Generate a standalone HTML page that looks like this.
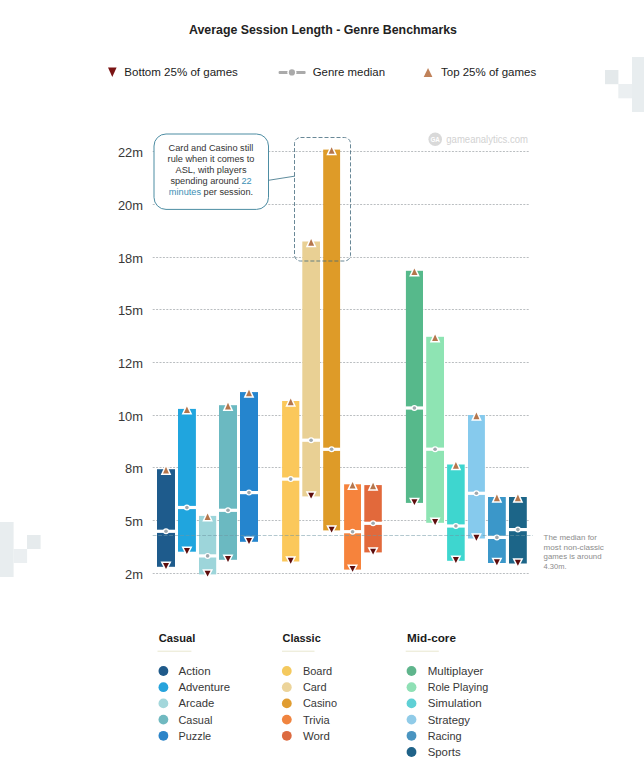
<!DOCTYPE html>
<html><head><meta charset="utf-8"><title>Average Session Length - Genre Benchmarks</title>
<style>
html,body{margin:0;padding:0;background:#fff;}
body{width:644px;height:775px;overflow:hidden;font-family:'Liberation Sans', Arial, sans-serif;}
svg{display:block;}
text{font-family:'Liberation Sans', Arial, sans-serif;}
</style></head><body>
<svg width="644" height="775" viewBox="0 0 644 775">
<rect width="644" height="775" fill="#ffffff"/>

<g fill="#e8edef">
<rect x="632" y="57" width="12" height="55"/>
<rect x="618.3" y="84" width="13.7" height="14.3" fill="#ebeff1"/>
<rect x="605" y="70" width="13.4" height="14.2" fill="#e4e9eb"/>
<rect x="0" y="522" width="13.6" height="55"/>
<rect x="13.6" y="549" width="13.5" height="14" fill="#ebeff1"/>
<rect x="27" y="535" width="13.6" height="14" fill="#e6ebed"/>
</g>
<text x="189" y="34.3" font-size="12.4" fill="#222" font-weight="bold" textLength="268" lengthAdjust="spacingAndGlyphs">Average Session Length - Genre Benchmarks</text>
<path d="M108 67.4 L116.6 67.4 L112.3 76.9 Z" fill="#7a1414"/>
<text x="124.3" y="76.2" font-size="11.6" fill="#1c1c1c" textLength="113.6" lengthAdjust="spacingAndGlyphs">Bottom 25% of games</text>
<g><rect x="278.6" y="70.9" width="27" height="3" rx="1" fill="#aaaaaa"/><circle cx="291.9" cy="72.4" r="4.6" fill="#fff"/><circle cx="291.9" cy="72.4" r="3.1" fill="#aaaaaa"/></g>
<text x="312.7" y="76.2" font-size="11.6" fill="#1c1c1c" textLength="72.3" lengthAdjust="spacingAndGlyphs">Genre median</text>
<path d="M423.7 76.9 L432.4 76.9 L428.05 67.9 Z" fill="#c0825a"/>
<text x="441" y="76.2" font-size="11.6" fill="#1c1c1c" textLength="95.2" lengthAdjust="spacingAndGlyphs">Top 25% of games</text>
<circle cx="435.2" cy="139.2" r="6.8" fill="#d9d9d9"/>
<text x="435.2" y="141.5" font-size="6.3" fill="#fff" text-anchor="middle" font-weight="bold">GA</text>
<text x="446.3" y="142.5" font-size="10" fill="#d2d2d2" textLength="81.7" lengthAdjust="spacingAndGlyphs">gameanalytics.com</text>
<line x1="152.7" x2="529.5" y1="151.5" y2="151.5" stroke="#959b9f" stroke-width="0.65" stroke-dasharray="2 1.4"/>
<text x="143" y="156.8" font-size="12.9" fill="#383838" text-anchor="end">22m</text>
<line x1="152.7" x2="529.5" y1="204.5" y2="204.5" stroke="#959b9f" stroke-width="0.65" stroke-dasharray="2 1.4"/>
<text x="143" y="209.8" font-size="12.9" fill="#383838" text-anchor="end">20m</text>
<line x1="152.7" x2="529.5" y1="257.5" y2="257.5" stroke="#959b9f" stroke-width="0.65" stroke-dasharray="2 1.4"/>
<text x="143" y="262.8" font-size="12.9" fill="#383838" text-anchor="end">18m</text>
<line x1="152.7" x2="529.5" y1="309.5" y2="309.5" stroke="#959b9f" stroke-width="0.65" stroke-dasharray="2 1.4"/>
<text x="143" y="314.8" font-size="12.9" fill="#383838" text-anchor="end">15m</text>
<line x1="152.7" x2="529.5" y1="362.5" y2="362.5" stroke="#959b9f" stroke-width="0.65" stroke-dasharray="2 1.4"/>
<text x="143" y="367.8" font-size="12.9" fill="#383838" text-anchor="end">12m</text>
<line x1="152.7" x2="529.5" y1="415.5" y2="415.5" stroke="#959b9f" stroke-width="0.65" stroke-dasharray="2 1.4"/>
<text x="143" y="420.8" font-size="12.9" fill="#383838" text-anchor="end">10m</text>
<line x1="152.7" x2="529.5" y1="467.5" y2="467.5" stroke="#959b9f" stroke-width="0.65" stroke-dasharray="2 1.4"/>
<text x="143" y="472.8" font-size="12.9" fill="#383838" text-anchor="end">8m</text>
<line x1="152.7" x2="529.5" y1="520.5" y2="520.5" stroke="#959b9f" stroke-width="0.65" stroke-dasharray="2 1.4"/>
<text x="143" y="525.8" font-size="12.9" fill="#383838" text-anchor="end">5m</text>
<line x1="152.7" x2="529.5" y1="573.5" y2="573.5" stroke="#959b9f" stroke-width="0.65" stroke-dasharray="2 1.4"/>
<text x="143" y="578.8" font-size="12.9" fill="#383838" text-anchor="end">2m</text>
<rect x="154" y="134" width="114.5" height="75.4" rx="12" ry="12" fill="#fff" stroke="#4d8da3" stroke-width="1"/>
<line x1="268.5" y1="180.3" x2="295" y2="176.1" stroke="#4d7f92" stroke-width="0.9"/>
<text x="211" y="151.20" font-size="9.2" fill="#333" text-anchor="middle">Card and Casino still</text>
<text x="211" y="162.05" font-size="9.2" fill="#333" text-anchor="middle">rule when it comes to</text>
<text x="211" y="172.90" font-size="9.2" fill="#333" text-anchor="middle">ASL, with players</text>
<text x="211" y="183.75" font-size="9.2" fill="#333" text-anchor="middle">spending around <tspan fill="#3d8fb5">22</tspan></text>
<text x="211" y="194.60" font-size="9.2" fill="#333" text-anchor="middle"><tspan fill="#3d8fb5">minutes</tspan> per session.</text>
<rect x="157.0" y="469.2" width="18.0" height="97.6" fill="#1e5b8c"/>
<rect x="178.0" y="408.9" width="17.9" height="142.8" fill="#20a5de"/>
<rect x="199.0" y="515.9" width="17.2" height="58.5" fill="#9dd5da"/>
<rect x="219.0" y="405.2" width="18.0" height="154.6" fill="#6bb9c1"/>
<rect x="240.0" y="392.1" width="18.0" height="149.7" fill="#2585ce"/>
<rect x="282.1" y="401.0" width="17.2" height="160.5" fill="#fbc85b"/>
<rect x="302.3" y="241.5" width="17.7" height="254.9" fill="#e9d094"/>
<rect x="323.2" y="149.6" width="16.9" height="380.8" fill="#de9b28"/>
<rect x="344.1" y="484.3" width="16.9" height="85.3" fill="#f6833c"/>
<rect x="364.3" y="485.1" width="17.5" height="67.3" fill="#e2693b"/>
<rect x="405.9" y="270.8" width="17.1" height="232.1" fill="#56b98b"/>
<rect x="426.2" y="336.8" width="17.8" height="186.0" fill="#8ee4b3"/>
<rect x="447.1" y="464.5" width="17.6" height="96.3" fill="#3ed6cf"/>
<rect x="468.0" y="415.0" width="16.9" height="123.5" fill="#86caed"/>
<rect x="488.0" y="497.0" width="17.8" height="66.0" fill="#3b97c9"/>
<rect x="509.0" y="497.0" width="17.8" height="66.5" fill="#1c6588"/>
<line x1="152.7" x2="532.8" y1="535.5" y2="535.5" stroke="#6f97a3" stroke-opacity="0.7" stroke-width="0.75" stroke-dasharray="3.8 1.7"/>
<rect x="294.5" y="137.5" width="56" height="123.5" rx="6" ry="6" fill="none" stroke="#426a7c" stroke-width="0.8" stroke-dasharray="4 2"/>
<rect x="156.4" y="529.7" width="19.2" height="3.2" fill="#fff"/>
<circle cx="166.0" cy="531.3" r="3.0" fill="#fff"/><circle cx="166.0" cy="531.3" r="1.8" fill="#9fa9ae"/>
<path d="M163.00 473.4 L169.00 473.4 L166.0 466.8 Z" fill="#b5764c" stroke="#fff" stroke-width="3" paint-order="stroke" stroke-linejoin="miter"/>
<path d="M163.00 563.1 L169.00 563.1 L166.0 569.0 Z" fill="#5e0d0d" stroke="#fff" stroke-width="3" paint-order="stroke" stroke-linejoin="miter"/>
<rect x="177.4" y="505.9" width="19.1" height="3.2" fill="#fff"/>
<circle cx="186.9" cy="507.5" r="3.0" fill="#fff"/><circle cx="186.9" cy="507.5" r="1.8" fill="#9fa9ae"/>
<path d="M183.95 413.1 L189.95 413.1 L186.9 406.5 Z" fill="#b5764c" stroke="#fff" stroke-width="3" paint-order="stroke" stroke-linejoin="miter"/>
<path d="M183.95 548.0 L189.95 548.0 L186.9 553.9 Z" fill="#5e0d0d" stroke="#fff" stroke-width="3" paint-order="stroke" stroke-linejoin="miter"/>
<rect x="198.4" y="554.3" width="18.4" height="3.2" fill="#fff"/>
<circle cx="207.6" cy="555.9" r="3.0" fill="#fff"/><circle cx="207.6" cy="555.9" r="1.8" fill="#9fa9ae"/>
<path d="M204.60 520.1 L210.60 520.1 L207.6 513.5 Z" fill="#b5764c" stroke="#fff" stroke-width="3" paint-order="stroke" stroke-linejoin="miter"/>
<path d="M204.60 570.7 L210.60 570.7 L207.6 576.6 Z" fill="#5e0d0d" stroke="#fff" stroke-width="3" paint-order="stroke" stroke-linejoin="miter"/>
<rect x="218.4" y="508.7" width="19.2" height="3.2" fill="#fff"/>
<circle cx="228.0" cy="510.3" r="3.0" fill="#fff"/><circle cx="228.0" cy="510.3" r="1.8" fill="#9fa9ae"/>
<path d="M225.00 409.4 L231.00 409.4 L228.0 402.8 Z" fill="#b5764c" stroke="#fff" stroke-width="3" paint-order="stroke" stroke-linejoin="miter"/>
<path d="M225.00 556.1 L231.00 556.1 L228.0 562.0 Z" fill="#5e0d0d" stroke="#fff" stroke-width="3" paint-order="stroke" stroke-linejoin="miter"/>
<rect x="239.4" y="491.0" width="19.2" height="3.2" fill="#fff"/>
<circle cx="249.0" cy="492.6" r="3.0" fill="#fff"/><circle cx="249.0" cy="492.6" r="1.8" fill="#9fa9ae"/>
<path d="M246.00 396.3 L252.00 396.3 L249.0 389.7 Z" fill="#b5764c" stroke="#fff" stroke-width="3" paint-order="stroke" stroke-linejoin="miter"/>
<path d="M246.00 538.1 L252.00 538.1 L249.0 544.0 Z" fill="#5e0d0d" stroke="#fff" stroke-width="3" paint-order="stroke" stroke-linejoin="miter"/>
<rect x="281.5" y="477.5" width="18.4" height="3.2" fill="#fff"/>
<circle cx="290.7" cy="479.1" r="3.0" fill="#fff"/><circle cx="290.7" cy="479.1" r="1.8" fill="#9fa9ae"/>
<path d="M287.70 405.2 L293.70 405.2 L290.7 398.6 Z" fill="#b5764c" stroke="#fff" stroke-width="3" paint-order="stroke" stroke-linejoin="miter"/>
<path d="M287.70 557.8 L293.70 557.8 L290.7 563.7 Z" fill="#5e0d0d" stroke="#fff" stroke-width="3" paint-order="stroke" stroke-linejoin="miter"/>
<rect x="301.7" y="438.6" width="18.9" height="3.2" fill="#fff"/>
<circle cx="311.1" cy="440.2" r="3.0" fill="#fff"/><circle cx="311.1" cy="440.2" r="1.8" fill="#9fa9ae"/>
<path d="M308.15 245.7 L314.15 245.7 L311.1 239.1 Z" fill="#b5764c" stroke="#fff" stroke-width="3" paint-order="stroke" stroke-linejoin="miter"/>
<path d="M308.15 492.7 L314.15 492.7 L311.1 498.6 Z" fill="#5e0d0d" stroke="#fff" stroke-width="3" paint-order="stroke" stroke-linejoin="miter"/>
<rect x="322.6" y="447.7" width="18.1" height="3.2" fill="#fff"/>
<circle cx="331.6" cy="449.3" r="3.0" fill="#fff"/><circle cx="331.6" cy="449.3" r="1.8" fill="#9fa9ae"/>
<path d="M328.65 153.8 L334.65 153.8 L331.6 147.2 Z" fill="#b5764c" stroke="#fff" stroke-width="3" paint-order="stroke" stroke-linejoin="miter"/>
<path d="M328.65 526.7 L334.65 526.7 L331.6 532.6 Z" fill="#5e0d0d" stroke="#fff" stroke-width="3" paint-order="stroke" stroke-linejoin="miter"/>
<rect x="343.5" y="530.1" width="18.1" height="3.2" fill="#fff"/>
<circle cx="352.6" cy="531.7" r="3.0" fill="#fff"/><circle cx="352.6" cy="531.7" r="1.8" fill="#9fa9ae"/>
<path d="M349.55 488.5 L355.55 488.5 L352.6 481.9 Z" fill="#b5764c" stroke="#fff" stroke-width="3" paint-order="stroke" stroke-linejoin="miter"/>
<path d="M349.55 565.9 L355.55 565.9 L352.6 571.8 Z" fill="#5e0d0d" stroke="#fff" stroke-width="3" paint-order="stroke" stroke-linejoin="miter"/>
<rect x="363.7" y="521.7" width="18.7" height="3.2" fill="#fff"/>
<circle cx="373.1" cy="523.3" r="3.0" fill="#fff"/><circle cx="373.1" cy="523.3" r="1.8" fill="#9fa9ae"/>
<path d="M370.05 489.3 L376.05 489.3 L373.1 482.7 Z" fill="#b5764c" stroke="#fff" stroke-width="3" paint-order="stroke" stroke-linejoin="miter"/>
<path d="M370.05 548.7 L376.05 548.7 L373.1 554.6 Z" fill="#5e0d0d" stroke="#fff" stroke-width="3" paint-order="stroke" stroke-linejoin="miter"/>
<rect x="405.3" y="406.4" width="18.3" height="3.2" fill="#fff"/>
<circle cx="414.4" cy="408.0" r="3.0" fill="#fff"/><circle cx="414.4" cy="408.0" r="1.8" fill="#9fa9ae"/>
<path d="M411.45 275.0 L417.45 275.0 L414.4 268.4 Z" fill="#b5764c" stroke="#fff" stroke-width="3" paint-order="stroke" stroke-linejoin="miter"/>
<path d="M411.45 499.2 L417.45 499.2 L414.4 505.1 Z" fill="#5e0d0d" stroke="#fff" stroke-width="3" paint-order="stroke" stroke-linejoin="miter"/>
<rect x="425.6" y="447.6" width="19.0" height="3.2" fill="#fff"/>
<circle cx="435.1" cy="449.2" r="3.0" fill="#fff"/><circle cx="435.1" cy="449.2" r="1.8" fill="#9fa9ae"/>
<path d="M432.10 341.0 L438.10 341.0 L435.1 334.4 Z" fill="#b5764c" stroke="#fff" stroke-width="3" paint-order="stroke" stroke-linejoin="miter"/>
<path d="M432.10 519.1 L438.10 519.1 L435.1 525.0 Z" fill="#5e0d0d" stroke="#fff" stroke-width="3" paint-order="stroke" stroke-linejoin="miter"/>
<rect x="446.5" y="524.4" width="18.8" height="3.2" fill="#fff"/>
<circle cx="455.9" cy="526.0" r="3.0" fill="#fff"/><circle cx="455.9" cy="526.0" r="1.8" fill="#9fa9ae"/>
<path d="M452.90 468.7 L458.90 468.7 L455.9 462.1 Z" fill="#b5764c" stroke="#fff" stroke-width="3" paint-order="stroke" stroke-linejoin="miter"/>
<path d="M452.90 557.1 L458.90 557.1 L455.9 563.0 Z" fill="#5e0d0d" stroke="#fff" stroke-width="3" paint-order="stroke" stroke-linejoin="miter"/>
<rect x="467.4" y="491.7" width="18.1" height="3.2" fill="#fff"/>
<circle cx="476.4" cy="493.3" r="3.0" fill="#fff"/><circle cx="476.4" cy="493.3" r="1.8" fill="#9fa9ae"/>
<path d="M473.45 419.2 L479.45 419.2 L476.4 412.6 Z" fill="#b5764c" stroke="#fff" stroke-width="3" paint-order="stroke" stroke-linejoin="miter"/>
<path d="M473.45 534.8 L479.45 534.8 L476.4 540.7 Z" fill="#5e0d0d" stroke="#fff" stroke-width="3" paint-order="stroke" stroke-linejoin="miter"/>
<rect x="487.4" y="535.8" width="19.0" height="3.2" fill="#fff"/>
<circle cx="496.9" cy="537.4" r="3.0" fill="#fff"/><circle cx="496.9" cy="537.4" r="1.8" fill="#9fa9ae"/>
<path d="M493.90 501.2 L499.90 501.2 L496.9 494.6 Z" fill="#b5764c" stroke="#fff" stroke-width="3" paint-order="stroke" stroke-linejoin="miter"/>
<path d="M493.90 559.3 L499.90 559.3 L496.9 565.2 Z" fill="#5e0d0d" stroke="#fff" stroke-width="3" paint-order="stroke" stroke-linejoin="miter"/>
<rect x="508.4" y="528.0" width="19.0" height="3.2" fill="#fff"/>
<circle cx="517.9" cy="529.6" r="3.0" fill="#fff"/><circle cx="517.9" cy="529.6" r="1.8" fill="#9fa9ae"/>
<path d="M514.90 501.2 L520.90 501.2 L517.9 494.6 Z" fill="#b5764c" stroke="#fff" stroke-width="3" paint-order="stroke" stroke-linejoin="miter"/>
<path d="M514.90 559.8 L520.90 559.8 L517.9 565.7 Z" fill="#5e0d0d" stroke="#fff" stroke-width="3" paint-order="stroke" stroke-linejoin="miter"/>
<text x="543.6" y="539.9" font-size="7.9" fill="#8c8c8c" textLength="53.3" lengthAdjust="spacingAndGlyphs">The median for</text>
<text x="543.6" y="549.5" font-size="7.9" fill="#8c8c8c" textLength="60.3" lengthAdjust="spacingAndGlyphs">most non-classic</text>
<text x="543.6" y="559.1" font-size="7.9" fill="#8c8c8c" textLength="57.9" lengthAdjust="spacingAndGlyphs">games is around</text>
<text x="543.6" y="568.7" font-size="7.9" fill="#8c8c8c" textLength="23" lengthAdjust="spacingAndGlyphs">4.30m.</text>
<text x="158.8" y="642" font-size="11.7" fill="#1a1a1a" font-weight="bold" textLength="36.5" lengthAdjust="spacingAndGlyphs">Casual</text>
<rect x="157.5" y="650.7" width="33.9" height="1" fill="#e9e7cf"/>
<circle cx="163.4" cy="671.0" r="4.9" fill="#1f5a8a"/>
<text x="178.5" y="674.9" font-size="11.5" fill="#383838" textLength="32.1" lengthAdjust="spacingAndGlyphs">Action</text>
<circle cx="163.4" cy="687.2" r="4.9" fill="#27a3dc"/>
<text x="178.5" y="691.1" font-size="11.5" fill="#383838" textLength="51.6" lengthAdjust="spacingAndGlyphs">Adventure</text>
<circle cx="163.4" cy="703.4" r="4.9" fill="#a3d7db"/>
<text x="178.5" y="707.3" font-size="11.5" fill="#383838" textLength="35.8" lengthAdjust="spacingAndGlyphs">Arcade</text>
<circle cx="163.4" cy="719.6" r="4.9" fill="#70b9c0"/>
<text x="178.5" y="723.5" font-size="11.5" fill="#383838" textLength="33.9" lengthAdjust="spacingAndGlyphs">Casual</text>
<circle cx="163.4" cy="735.8" r="4.9" fill="#2b84c8"/>
<text x="178.5" y="739.7" font-size="11.5" fill="#383838" textLength="32.6" lengthAdjust="spacingAndGlyphs">Puzzle</text>
<text x="282.5" y="642" font-size="11.7" fill="#1a1a1a" font-weight="bold" textLength="38.2" lengthAdjust="spacingAndGlyphs">Classic</text>
<rect x="282" y="650.7" width="32.5" height="1" fill="#e9e7cf"/>
<circle cx="286.8" cy="671.0" r="4.9" fill="#f4c95e"/>
<text x="302.9" y="674.9" font-size="11.5" fill="#383838" textLength="29.3" lengthAdjust="spacingAndGlyphs">Board</text>
<circle cx="286.8" cy="687.2" r="4.9" fill="#ecd49a"/>
<text x="302.9" y="691.1" font-size="11.5" fill="#383838" textLength="23.7" lengthAdjust="spacingAndGlyphs">Card</text>
<circle cx="286.8" cy="703.4" r="4.9" fill="#e09c30"/>
<text x="302.9" y="707.3" font-size="11.5" fill="#383838" textLength="34.1" lengthAdjust="spacingAndGlyphs">Casino</text>
<circle cx="286.8" cy="719.6" r="4.9" fill="#f0843f"/>
<text x="302.9" y="723.5" font-size="11.5" fill="#383838" textLength="26.7" lengthAdjust="spacingAndGlyphs">Trivia</text>
<circle cx="286.8" cy="735.8" r="4.9" fill="#dc6a40"/>
<text x="302.9" y="739.7" font-size="11.5" fill="#383838" textLength="27.1" lengthAdjust="spacingAndGlyphs">Word</text>
<text x="407.1" y="642" font-size="11.7" fill="#1a1a1a" font-weight="bold" textLength="48.8" lengthAdjust="spacingAndGlyphs">Mid-core</text>
<rect x="405.7" y="650.7" width="33.1" height="1" fill="#e9e7cf"/>
<circle cx="411.5" cy="671.0" r="4.9" fill="#5fb58c"/>
<text x="427.7" y="674.9" font-size="11.5" fill="#383838" textLength="55.7" lengthAdjust="spacingAndGlyphs">Multiplayer</text>
<circle cx="411.5" cy="687.2" r="4.9" fill="#8fe0b5"/>
<text x="427.7" y="691.1" font-size="11.5" fill="#383838" textLength="60.5" lengthAdjust="spacingAndGlyphs">Role Playing</text>
<circle cx="411.5" cy="703.4" r="4.9" fill="#5fd0d5"/>
<text x="427.7" y="707.3" font-size="11.5" fill="#383838" textLength="54.1" lengthAdjust="spacingAndGlyphs">Simulation</text>
<circle cx="411.5" cy="719.6" r="4.9" fill="#90cbe8"/>
<text x="427.7" y="723.5" font-size="11.5" fill="#383838" textLength="42.3" lengthAdjust="spacingAndGlyphs">Strategy</text>
<circle cx="411.5" cy="735.8" r="4.9" fill="#4a94c0"/>
<text x="427.7" y="739.7" font-size="11.5" fill="#383838" textLength="33.9" lengthAdjust="spacingAndGlyphs">Racing</text>
<circle cx="411.5" cy="752.0" r="4.9" fill="#1f6288"/>
<text x="427.7" y="755.9" font-size="11.5" fill="#383838" textLength="32.9" lengthAdjust="spacingAndGlyphs">Sports</text>
</svg></body></html>
